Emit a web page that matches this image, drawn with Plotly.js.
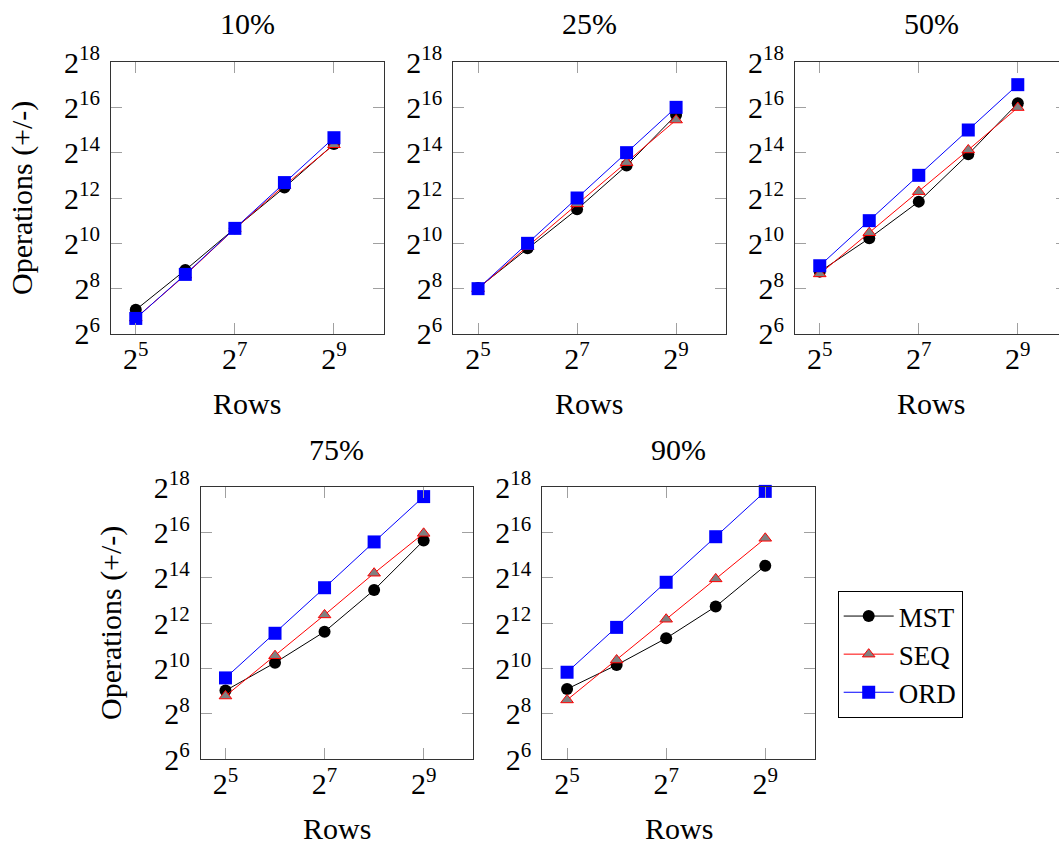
<!DOCTYPE html>
<html>
<head>
<meta charset="utf-8">
<script src="https://cdn.plot.ly/plotly-3.0.1.min.js"></script>
<style>
html, body { margin: 0; padding: 0; overflow: hidden; background: #fff; }
#chart { width: 1070px; height: 844px; }
</style>
</head>
<body>
<div id="chart"></div>
<script>
// ---- data ----
const rows = [32, 64, 128, 256, 512];
const panelTitles = ['10%', '25%', '50%', '75%', '90%'];
const seriesNames = ['MST', 'SEQ', 'ORD'];

const mst10 = [134, 452, 1618, 5634, 21321];
const seq10 = [104, 388, 1607, 5997, 20883];
const ord10 = [103, 396, 1618, 6562, 25887];

const mst25 = [261, 879, 2896, 11036, 51774];
const seq25 = [256, 923, 3421, 12077, 44454];
const ord25 = [256, 1024, 4096, 16384, 65536];

const mst50 = [431, 1193, 3666, 15608, 74245];
const seq50 = [402, 1418, 4973, 17805, 65085];
const ord50 = [516, 2048, 8192, 32768, 131072];

const mst75 = [523, 1226, 3170, 11347, 51420];
const seq75 = [443, 1520, 5294, 18951, 64186];
const ord75 = [771, 3019, 12161, 49323, 197290];

const mst90 = [549, 1144, 2592, 6841, 23822];
const seq90 = [393, 1333, 4640, 15936, 55109];
const ord90 = [917, 3616, 14362, 57849, 231393];

const xTickVals = [32, 128, 512];
const xTickText = ['2<sup>5</sup>', '2<sup>7</sup>', '2<sup>9</sup>'];
const yTickVals = [64, 256, 1024, 4096, 16384, 65536, 262144];
const yTickText = ['2<sup>6</sup>', '2<sup>8</sup>', '2<sup>10</sup>', '2<sup>12</sup>', '2<sup>14</sup>', '2<sup>16</sup>', '2<sup>18</sup>'];

const panels = [
  [mst10, seq10, ord10],
  [mst25, seq25, ord25],
  [mst50, seq50, ord50],
  [mst75, seq75, ord75],
  [mst90, seq90, ord90]
];

// ---- layout geometry (pixels) ----
const W = 1070, H = 844;
const boxes = [
  {x0: 111,   x1: 383.5,  y0: 62,    y1: 334},
  {x0: 453.3, x1: 725.6,  y0: 62,    y1: 334},
  {x0: 795,   x1: 1067.3, y0: 62,    y1: 334},
  {x0: 200.7, x1: 473.2,  y0: 487.3, y1: 759.3},
  {x0: 542.3, x1: 814.8,  y0: 487.3, y1: 759.3}
];

const FONT = 'Liberation Serif, Times New Roman, serif';
const styles = [
  {line: {color: '#000000', width: 1}, marker: {symbol: 'circle', size: 12, color: '#000000'}},
  {line: {color: '#ff0000', width: 1}, marker: {symbol: 'triangle-up', size: 11, color: '#808080', line: {color: '#ff0000', width: 1}}},
  {line: {color: '#0000ff', width: 1}, marker: {symbol: 'square', size: 13, color: '#0000ff'}}
];

const traces = [];
const layout = {
  width: W, height: H,
  margin: {l: 0, r: 0, t: 0, b: 0},
  paper_bgcolor: '#ffffff',
  plot_bgcolor: '#ffffff',
  font: {family: FONT, size: 30, color: '#000'},
  showlegend: true,
  legend: {
    x: 837.7 / W, y: 1 - 591 / H, xanchor: 'left', yanchor: 'top',
    bordercolor: '#000', borderwidth: 1, bgcolor: '#fff',
    font: {family: FONT, size: 27, color: '#000'},
    itemwidth: 50,
    tracegroupgap: 0
  },
  annotations: []
};

const xr = [Math.log10(Math.pow(2, 4.5)), Math.log10(1024)];
const yr = [Math.log10(64) - 0.0001, Math.log10(262144) + 0.0001];

panels.forEach((p, i) => {
  const k = i + 1;
  const xa = 'xaxis' + (k === 1 ? '' : k);
  const ya = 'yaxis' + (k === 1 ? '' : k);
  const b = boxes[i];
  p.forEach((vals, s) => {
    traces.push({
      x: rows, y: vals, type: 'scatter', mode: 'lines+markers',
      name: seriesNames[s], legendgroup: seriesNames[s],
      showlegend: i === 0,
      xaxis: 'x' + (k === 1 ? '' : k), yaxis: 'y' + (k === 1 ? '' : k),
      line: styles[s].line, marker: styles[s].marker,
      cliponaxis: false
    });
  });
  const common = {
    showline: true, linecolor: '#333', linewidth: 1, mirror: 'allticks',
    ticks: 'inside', ticklen: 11, tickwidth: 1, tickcolor: '#a0a0a0',
    showgrid: false, zeroline: false, fixedrange: true,
    tickfont: {family: FONT, size: 30, color: '#000'}
  };
  layout[xa] = Object.assign({}, common, {
    type: 'log', range: xr, tickmode: 'array', tickvals: xTickVals, ticktext: xTickText,
    domain: [b.x0 / W, b.x1 / W], anchor: 'y' + (k === 1 ? '' : k),
    ticklabelstandoff: -2
  });
  layout[ya] = Object.assign({}, common, {
    type: 'log', range: yr, tickmode: 'array', tickvals: yTickVals, ticktext: yTickText,
    domain: [1 - b.y1 / H, 1 - b.y0 / H], anchor: 'x' + (k === 1 ? '' : k),
    ticklabelstandoff: 4
  });
  const cx = (b.x0 + b.x1) / 2;
  // panel title
  layout.annotations.push({
    text: panelTitles[i], xref: 'paper', yref: 'paper',
    x: cx / W, y: 1 - (b.y0 - 38) / H, xanchor: 'center', yanchor: 'middle',
    showarrow: false, font: {family: FONT, size: 30, color: '#000'}
  });
  // x title
  layout.annotations.push({
    text: 'Rows', xref: 'paper', yref: 'paper',
    x: cx / W, y: 1 - (b.y1 + 69) / H, xanchor: 'center', yanchor: 'middle',
    showarrow: false, font: {family: FONT, size: 30, color: '#000'}
  });
  // y title on left panels
  if (i === 0 || i === 3) {
    layout.annotations.push({
      text: 'Operations (+/-)', xref: 'paper', yref: 'paper',
      x: (b.x0 - 89) / W, y: 1 - ((b.y0 + b.y1) / 2) / H, xanchor: 'center', yanchor: 'middle',
      textangle: -90,
      showarrow: false, font: {family: FONT, size: 30, color: '#000'}
    });
  }
});

Plotly.newPlot('chart', traces, layout, {staticPlot: true, displayModeBar: false});
</script>
</body>
</html>
